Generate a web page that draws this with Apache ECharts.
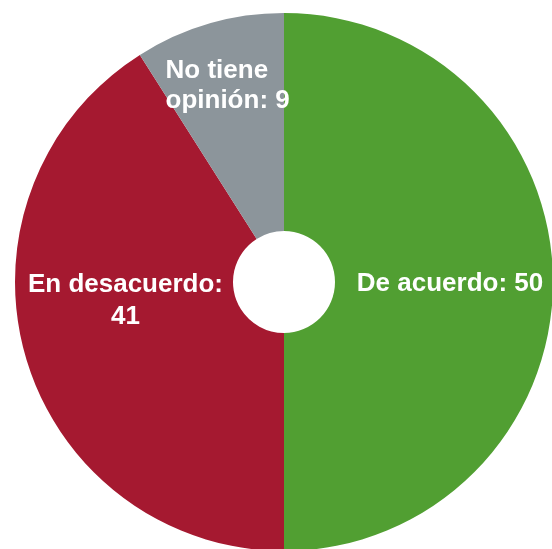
<!DOCTYPE html>
<html><head><meta charset="utf-8">
<script src="https://cdn.jsdelivr.net/npm/echarts@6/dist/echarts.min.js"></script>
<style>html,body{margin:0;padding:0;background:#fff}#c{width:552px;height:549px}</style>
</head><body><div id="c"></div>
<script>
const categories = ['De acuerdo', 'En desacuerdo', 'No tiene opinión'];
const values = [50, 41, 9];
const colors = ['#519f32', '#a51930', '#8c959b'];
const labelTexts = ['De acuerdo: 50', 'En desacuerdo:\n41', 'No tiene\nopinión: 9'];
// label offsets from default inside position (dx, dy), alignment and line height
const labelOffsets = [[3, 2], [-2, -27], [-73, -40]];
const labelAligns = ['center', 'center', 'left'];
const labelLineHeights = [32, 32, 30];

const chart = echarts.init(document.getElementById('c'));
chart.setOption({
  animation: false,
  series: [{
    type: 'pie',
    center: [284, 282],
    radius: [51, 269],
    startAngle: 90,
    clockwise: true,
    avoidLabelOverlap: false,
    data: categories.map((n, i) => ({
      name: n, value: values[i],
      itemStyle: { color: colors[i] },
      label: { formatter: labelTexts[i], align: labelAligns[i], lineHeight: labelLineHeights[i] }
    })),
    label: {
      show: true, position: 'inside',
      color: '#fff', fontWeight: 'bold', fontSize: 26, lineHeight: 32,
      fontFamily: '"Liberation Sans", Arial, sans-serif'
    },
    labelLine: { show: false },
    labelLayout: function (p) {
      const i = p.dataIndex;
      const r = p.labelRect;
      const cx = r.x + r.width / 2, cy = r.y + r.height / 2;
      return {
        x: cx + labelOffsets[i][0],
        y: cy + labelOffsets[i][1],
        align: labelAligns[i],
        verticalAlign: 'middle'
      };
    },
    emphasis: { disabled: true }
  }]
});
</script></body></html>
